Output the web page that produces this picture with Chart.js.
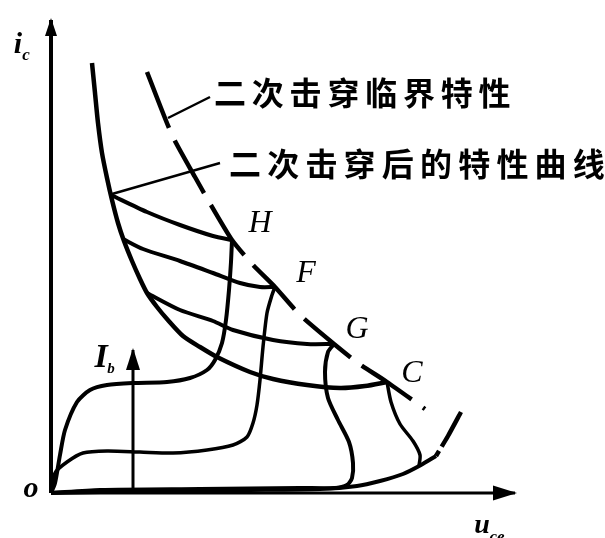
<!DOCTYPE html>
<html lang="zh">
<head>
<meta charset="utf-8">
<title>二次击穿特性</title>
<script src="https://cdn.jsdelivr.net/npm/chart.js@4.4.0/dist/chart.umd.min.js"></script>
<style>
    html, body { margin: 0; padding: 0; background: #fff; }
    #sbChart { display: block; }
</style>
</head>
<body>
<canvas id="sbChart" width="605" height="538"></canvas>
<script>
// Units: origin o at (0,0), u_ce to the right, i_c upwards (arbitrary scale)

// Output characteristics, one per base current step
const curveH = [[0,0],[4,10],[9,38],[14,63],[26,91],[39,103],[56,108],[82,110],[116,111],[139,115],[156,123],[164,133],[171,150],[175,173],[178,203],[180,231],[181,253]];
const curveF = [[0,0],[4,20],[16,31],[32,40],[56,42],[89,41],[122,40],[156,43],[182,48],[196,56],[202,70],[206,88],[209,113],[212,146],[216,180],[221,198],[224,206]];
const curveG = [[0,0],[49,3],[149,4],[249,5],[284,5],[296,8],[301,15],[302,30],[298,51],[287,73],[277,95],[274,121],[277,141],[283,149]];
const curveZero = [[0,0],[99,2],[199,3],[269,4],[306,7],[329,12],[352,19],[370,28],[385,37]];
const curveZeroDash = [[385,37],[397,57],[410,81]];
const branchC = [[368,27],[369,38],[362,52],[349,69],[340,91],[336,111]];

// Characteristics after second breakdown (low-voltage side)
const afterLeft = [[41,430],[44,400],[47,370],[51,340],[56,315],[61,293],[67,270],[73,252],[81,232],[89,214],[96,200],[106,186],[116,174],[132,157],[149,146],[166,136],[199,121],[222,114],[256,108],[289,105],[314,107],[336,111]];
const afterH = [[60,298],[96,281],[129,268],[162,257],[181,253]];
const afterF = [[72,254],[92,244],[129,232],[162,220],[189,210],[209,206],[224,206]];
const afterG = [[96,200],[129,183],[162,172],[182,163],[222,153],[256,149],[283,149]];

// Second breakdown critical locus through H, F, G, C
const criticalLocus = [[96,421],[121,358],[144,316],[157,293],[181,253],[202,228],[224,206],[249,178],[283,149],[307,130],[336,111],[374,84]];

// Leader lines for the two notes
const leaderCritical = [[117,375],[159,396]];
const leaderAfter = [[61,299],[169,330]];

// Axes and the I_b arrow
const axisY = [[0,0],[0,473]];
const axisX = [[0,0],[464,0]];
const arrowIb = [[82,0],[82,143]];

const pts = (arr) => arr.map(([x, y]) => ({ x, y }));

function garis(data, extra) {
    return Object.assign({
        data: pts(data),
        showLine: true,
        fill: false,
        borderColor: "#000",
        backgroundColor: "#000",
        borderWidth: 4,
        tension: 0.25,
        pointRadius: 0,
        borderJoinStyle: "round",
    }, extra || {});
}

// Text placed in data units
const serif = "\"Liberation Serif\", \"DejaVu Serif\", serif";
const cjk = "\"Noto Sans CJK SC\", sans-serif";
const labels = [
    { text: "H", x: 209, y: 261, font: "italic 32px " + serif },
    { text: "F", x: 255, y: 211, font: "italic 32px " + serif },
    { text: "G", x: 306, y: 155, font: "italic 32px " + serif },
    { text: "C", x: 361, y: 111, font: "italic 32px " + serif },
    { text: "I", x: 50, y: 126, font: "italic bold 34px " + serif },
    { text: "b", x: 60, y: 120, font: "italic bold 15px " + serif },
    { text: "i", x: -33, y: 440, font: "italic bold 30px " + serif },
    { text: "c", x: -25, y: 433, font: "italic bold 17px " + serif },
    { text: "o", x: -20, y: -4, font: "italic bold 30px " + serif },
    { text: "u", x: 431, y: -40, font: "italic bold 28px " + serif },
    { text: "ce", x: 446, y: -49, font: "italic bold 17px " + serif },
];
const notes = [
    { text: "二次击穿临界特性", x: 179, y: 400, pitch: 37.8 },
    { text: "二次击穿后的特性曲线", x: 194, y: 329, pitch: 38.2 },
];

const arrowHeads = {
    id: "arrowHeads",
    afterDatasetsDraw(chart) {
        const ctx = chart.ctx;
        chart.data.datasets.forEach((ds, i) => {
            if (!ds.arrow) return;
            const els = chart.getDatasetMeta(i).data;
            const tip = els[els.length - 1];
            const prev = els[els.length - 2];
            const a = Math.atan2(tip.y - prev.y, tip.x - prev.x);
            ctx.save();
            ctx.translate(tip.x, tip.y);
            ctx.rotate(a);
            ctx.fillStyle = "#000";
            ctx.beginPath();
            ctx.moveTo(2, 0);
            ctx.lineTo(-ds.arrow.len, -ds.arrow.width / 2);
            ctx.lineTo(-ds.arrow.len, ds.arrow.width / 2);
            ctx.closePath();
            ctx.fill();
            ctx.restore();
        });
    },
};

const figureText = {
    id: "figureText",
    afterDraw(chart) {
        const ctx = chart.ctx;
        const sx = chart.scales.x;
        const sy = chart.scales.y;
        ctx.save();
        ctx.fillStyle = "#000";
        ctx.textBaseline = "alphabetic";
        labels.forEach((l) => {
            ctx.font = l.font;
            ctx.textAlign = "center";
            ctx.fillText(l.text, sx.getPixelForValue(l.x), sy.getPixelForValue(l.y));
        });
        // CJK notes, one glyph at a time to keep the wide spacing
        ctx.font = "bold 32px " + cjk;
        ctx.textBaseline = "middle";
        notes.forEach((n) => {
            const x0 = sx.getPixelForValue(n.x);
            const y0 = sy.getPixelForValue(n.y);
            [...n.text].forEach((ch, k) => {
                ctx.fillText(ch, x0 + k * n.pitch, y0);
            });
        });
        ctx.restore();
    },
};

document.addEventListener("DOMContentLoaded", function () {
    const el = document.getElementById("sbChart");
    if (!el) return;

    const datasets = [
        garis(axisY, { borderWidth: 4, tension: 0, arrow: { len: 16, width: 12 } }),
        garis(axisX, { borderWidth: 3, tension: 0, arrow: { len: 22, width: 15 } }),
        garis(arrowIb, { borderWidth: 3, tension: 0, arrow: { len: 20, width: 14 } }),
        garis(curveZero, { borderWidth: 4 }),
        garis(curveZeroDash, { borderWidth: 4.5, tension: 0.2, borderDash: [6, 5, 40, 10] }),
        garis(branchC, { borderWidth: 3.5 }),
        garis(curveG, { borderWidth: 4 }),
        garis(curveF, { borderWidth: 3.5 }),
        garis(curveH, { borderWidth: 4 }),
        garis(afterLeft, { borderWidth: 4.5 }),
        garis(afterH, { borderWidth: 4 }),
        garis(afterF, { borderWidth: 4 }),
        garis(afterG, { borderWidth: 4 }),
        garis(criticalLocus, { borderWidth: 4.5, tension: 0.2, borderDash: [60, 14] }),
        garis(leaderCritical, { borderWidth: 2.5, tension: 0 }),
        garis(leaderAfter, { borderWidth: 2.5, tension: 0 }),
    ];

    new Chart(el, {
        type: "scatter",
        data: { datasets },
        options: {
            responsive: false,
            animation: false,
            devicePixelRatio: 1,
            events: [],
            layout: { padding: 0 },
            plugins: {
                legend: { display: false },
                tooltip: { enabled: false },
            },
            scales: {
                x: { type: "linear", display: false, min: -51, max: 554 },
                y: { type: "linear", display: false, min: -45, max: 493 },
            },
        },
        plugins: [arrowHeads, figureText],
    });
});
</script>
</body>
</html>
